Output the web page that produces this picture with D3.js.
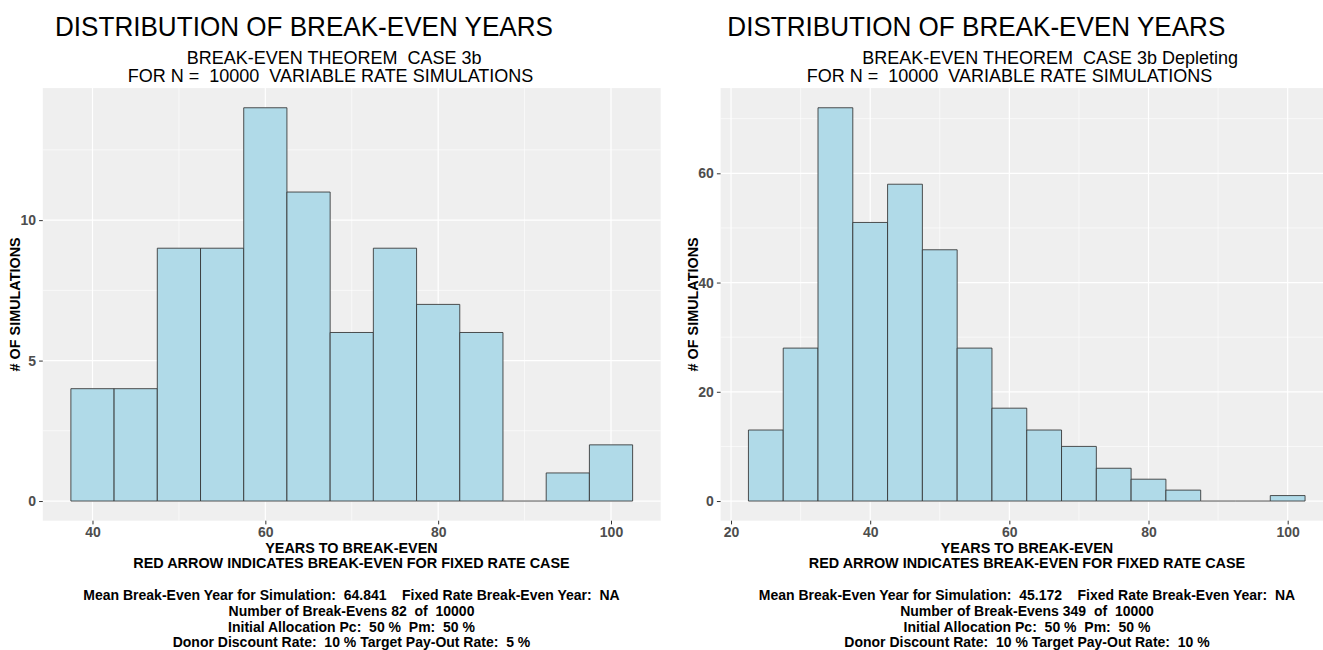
<!DOCTYPE html>
<html>
<head>
<meta charset="utf-8">
<script src="https://cdn.jsdelivr.net/npm/d3@7"></script>
<style>
  html, body { margin: 0; padding: 0; background: #ffffff; }
  svg { display: block; font-family: "Liberation Sans", Arial, sans-serif; }
  text { white-space: pre; }
</style>
</head>
<body>
<svg id="chart" width="1323" height="650"></svg>
<script>
// Histogram bins (bin centres, width 5 years) and counts per bin
const binWidth = 5;
const leftCenters = [40, 45, 50, 55, 60, 65, 70, 75, 80, 85, 90, 95, 100];
const leftCounts  = [4, 4, 9, 9, 14, 11, 6, 9, 7, 6, 0, 1, 2];
const rightCenters = [25, 30, 35, 40, 45, 50, 55, 60, 65, 70, 75, 80, 85, 90, 95, 100];
const rightCounts  = [13, 28, 72, 51, 58, 46, 28, 17, 13, 10, 6, 4, 2, 0, 0, 1];

// Axis ticks
const leftXTicks = [40, 60, 80, 100];
const leftYTicks = [0, 5, 10];
const rightXTicks = [20, 40, 60, 80, 100];
const rightYTicks = [0, 20, 40, 60];

// Text
const mainTitle = "DISTRIBUTION OF BREAK-EVEN YEARS";
const leftSubtitle = ["BREAK-EVEN THEOREM  CASE 3b", "FOR N =  10000  VARIABLE RATE SIMULATIONS"];
const rightSubtitle = ["BREAK-EVEN THEOREM  CASE 3b Depleting", "FOR N =  10000  VARIABLE RATE SIMULATIONS"];
const xTitle = ["YEARS TO BREAK-EVEN", "RED ARROW INDICATES BREAK-EVEN FOR FIXED RATE CASE"];
const yTitle = "# OF SIMULATIONS";
const leftNotes = [
  "Mean Break-Even Year for Simulation:  64.841    Fixed Rate Break-Even Year:  NA",
  "Number of Break-Evens 82  of  10000",
  "Initial Allocation Pc:  50 %  Pm:  50 %",
  "Donor Discount Rate:  10 % Target Pay-Out Rate:  5 %"
];
const rightNotes = [
  "Mean Break-Even Year for Simulation:  45.172    Fixed Rate Break-Even Year:  NA",
  "Number of Break-Evens 349  of  10000",
  "Initial Allocation Pc:  50 %  Pm:  50 %",
  "Donor Discount Rate:  10 % Target Pay-Out Rate:  10 %"
];

const svg = d3.select("#chart");

function drawPanel(cfg) {
  const g = svg.append("g");
  const x = d3.scaleLinear().domain(cfg.xDomain).range([cfg.left, cfg.right]);
  const y = d3.scaleLinear().domain(cfg.yDomain).range([cfg.bottom, cfg.top]);

  // panel background
  g.append("rect")
    .attr("x", cfg.left).attr("y", cfg.top)
    .attr("width", cfg.right - cfg.left).attr("height", cfg.bottom - cfg.top)
    .attr("fill", "#EFEFEF");

  // minor grid
  const xMinor = cfg.xTicks.slice(0, -1).map((v, i) => (v + cfg.xTicks[i + 1]) / 2)
    .concat([cfg.xTicks[0] - (cfg.xTicks[1] - cfg.xTicks[0]) / 2,
             cfg.xTicks[cfg.xTicks.length - 1] + (cfg.xTicks[1] - cfg.xTicks[0]) / 2])
    .filter(v => v > cfg.xDomain[0] && v < cfg.xDomain[1]);
  const yStep = cfg.yTicks[1] - cfg.yTicks[0];
  const yMinor = cfg.yTicks.map(v => v + yStep / 2).filter(v => v < cfg.yDomain[1]);

  g.selectAll(".xminor").data(xMinor).enter().append("line")
    .attr("x1", d => x(d)).attr("x2", d => x(d))
    .attr("y1", cfg.top).attr("y2", cfg.bottom)
    .attr("stroke", "#ffffff").attr("stroke-width", 0.6);
  g.selectAll(".yminor").data(yMinor).enter().append("line")
    .attr("y1", d => y(d)).attr("y2", d => y(d))
    .attr("x1", cfg.left).attr("x2", cfg.right)
    .attr("stroke", "#ffffff").attr("stroke-width", 0.6);

  // major grid
  g.selectAll(".xmajor").data(cfg.xTicks).enter().append("line")
    .attr("x1", d => x(d)).attr("x2", d => x(d))
    .attr("y1", cfg.top).attr("y2", cfg.bottom)
    .attr("stroke", "#ffffff").attr("stroke-width", 1.2);
  g.selectAll(".ymajor").data(cfg.yTicks).enter().append("line")
    .attr("y1", d => y(d)).attr("y2", d => y(d))
    .attr("x1", cfg.left).attr("x2", cfg.right)
    .attr("stroke", "#ffffff").attr("stroke-width", 1.2);

  // histogram bars (paths so that empty bins still show their outline)
  const bins = cfg.centers.map((c, i) => ({ x0: c - binWidth / 2, x1: c + binWidth / 2, n: cfg.counts[i] }));
  g.selectAll(".bar").data(bins).enter().append("path")
    .attr("d", d => {
      const x0 = x(d.x0), x1 = x(d.x1), y0 = y(0), y1 = y(d.n);
      return `M${x0},${y0}V${y1}H${x1}V${y0}Z`;
    })
    .attr("fill", "#B0DAE8")
    .attr("stroke", d => d.n === 0 ? "#7a7a7a" : "#333333")
    .attr("stroke-width", 1)
    .attr("stroke-opacity", 0.85);

  // axes
  const xAxis = d3.axisBottom(x).tickValues(cfg.xTicks).tickSize(3.7).tickPadding(3);
  const yAxis = d3.axisLeft(y).tickValues(cfg.yTicks).tickSize(3.7).tickPadding(3);

  const gx = g.append("g").attr("transform", `translate(0,${cfg.bottom})`).call(xAxis);
  const gy = g.append("g").attr("transform", `translate(${cfg.left},0)`).call(yAxis);
  [gx, gy].forEach(a => {
    a.select(".domain").remove();
    a.selectAll(".tick line").attr("stroke", "#333333");
    a.selectAll(".tick text")
      .attr("fill", "#4D4D4D")
      .style("font-size", "14px")
      .style("font-weight", "bold")
      .style("font-family", "'Liberation Sans', Arial, sans-serif");
  });

  // titles
  svg.append("text")
    .attr("x", cfg.titleX).attr("y", 36)
    .style("font-size", "27.5px")
    .attr("textLength", 498)
    .attr("lengthAdjust", "spacingAndGlyphs")
    .attr("fill", "#000")
    .text(mainTitle);
  cfg.subtitle.forEach((s, i) => {
    svg.append("text")
      .attr("x", cfg.subX[i]).attr("y", [63.7, 82.3][i])
      .style("font-size", "18px")
      .attr("fill", "#000")
      .text(s);
  });

  // y-axis title
  svg.append("text")
    .attr("transform", `translate(${cfg.yTitleX},${(cfg.top + cfg.bottom) / 2}) rotate(-90)`)
    .attr("text-anchor", "middle")
    .attr("dy", "0.36em")
    .style("font-size", "14.4px")
    .style("font-weight", "bold")
    .text(yTitle);

  // x-axis title and notes
  const lines = xTitle.concat(cfg.notes);
  const ys = [552.7, 568.3, 600, 616, 631.7, 647.3];
  lines.forEach((s, i) => {
    svg.append("text")
      .attr("x", cfg.noteX).attr("y", ys[i])
      .attr("text-anchor", "middle")
      .style("font-size", i < 2 ? "14.4px" : "14px")
      .style("font-weight", "bold")
      .attr("fill", "#000")
      .text(s);
  });
}

drawPanel({
  centers: leftCenters, counts: leftCounts,
  xDomain: [34.25, 105.75], yDomain: [-0.7, 14.7],
  left: 42.8, right: 660.7, top: 88.1, bottom: 520.7,
  xTicks: leftXTicks, yTicks: leftYTicks,
  titleX: 55, subX: [186.7, 127.7], subtitle: leftSubtitle,
  yTitleX: 15, noteX: 351.5, notes: leftNotes
});

drawPanel({
  centers: rightCenters, counts: rightCounts,
  xDomain: [18.5, 106.5], yDomain: [-3.6, 75.6],
  left: 720.6, right: 1332.9, top: 88.1, bottom: 520.7,
  xTicks: rightXTicks, yTicks: rightYTicks,
  titleX: 727.3, subX: [862.3, 806.7], subtitle: rightSubtitle,
  yTitleX: 693.3, noteX: 1027, notes: rightNotes
});
</script>
</body>
</html>
